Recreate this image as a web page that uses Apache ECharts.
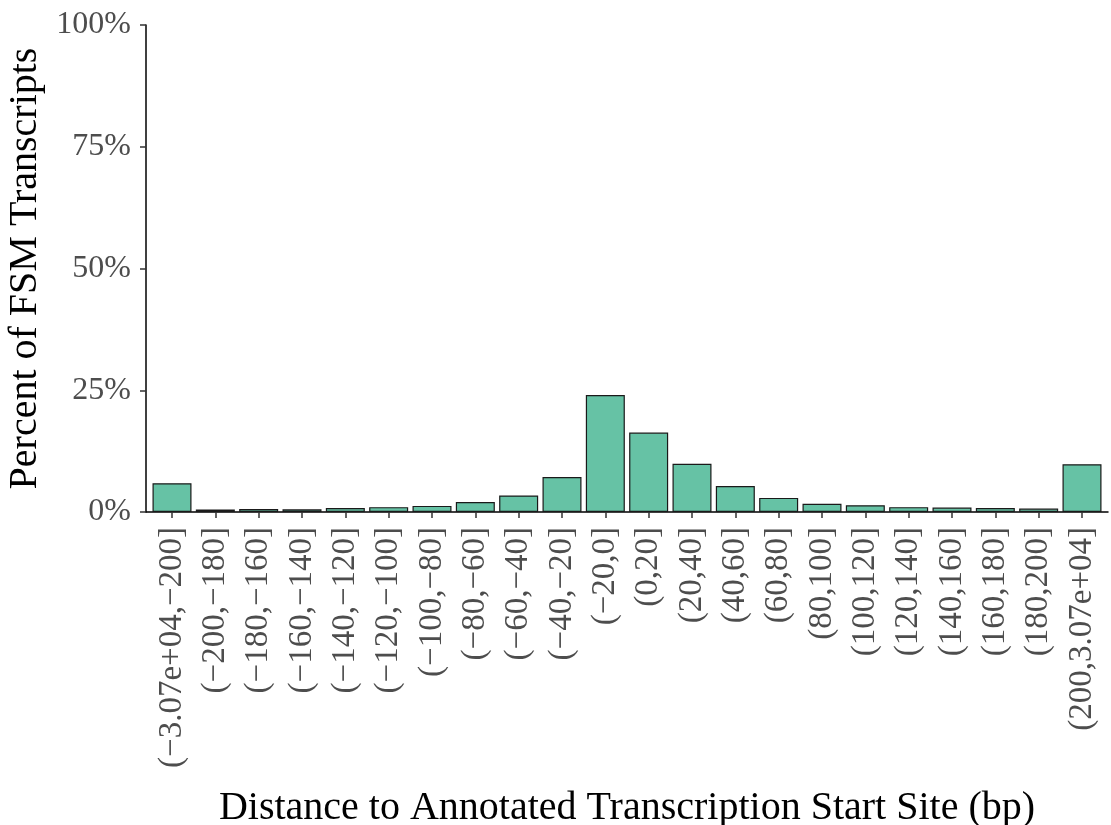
<!DOCTYPE html>
<html>
<head>
<meta charset="utf-8">
<script src="https://cdn.jsdelivr.net/npm/echarts@6/dist/echarts.min.js"></script>
<style>
  html, body { margin: 0; padding: 0; background: #fff; }
  #chart { width: 1111px; height: 825px; }
</style>
</head>
<body>
<div id="chart"></div>
<script>
// TSS distance bins (bp)
const categories = [
  '(−3.07e+04,−200]', '(−200,−180]', '(−180,−160]', '(−160,−140]', '(−140,−120]',
  '(−120,−100]', '(−100,−80]', '(−80,−60]', '(−60,−40]', '(−40,−20]', '(−20,0]',
  '(0,20]', '(20,40]', '(40,60]', '(60,80]', '(80,100]', '(100,120]', '(120,140]',
  '(140,160]', '(160,180]', '(180,200]', '(200,3.07e+04]'
];
// Percent of FSM transcripts in each bin
const percents = [
  5.9, 0.5, 0.6, 0.55, 0.8, 1.0, 1.25, 2.05, 3.4, 7.2, 24.0,
  16.3, 9.9, 5.35, 2.9, 1.7, 1.4, 1.0, 0.9, 0.8, 0.7, 9.8
];
const yTicks = [0, 25, 50, 75, 100];

const FONT = '"Liberation Serif", "DejaVu Serif", serif';
const chart = echarts.init(document.getElementById('chart'), null, { renderer: 'canvas' });

// Bars sit in an inner grid so the outer axis frame extends a little past the first/last bin
const TOP = 25, BOTTOM = 313;
const AX_LEFT = 146, AX_RIGHT = 3;
const axWidth = 1111 - AX_LEFT - AX_RIGHT;
const step = axWidth / (categories.length + 0.2);
const pad = 0.1 * step;

chart.setOption({
  animation: false,
  backgroundColor: '#ffffff',
  grid: [
    { left: AX_LEFT + pad, right: AX_RIGHT + pad, top: TOP, bottom: BOTTOM, outerBoundsMode: 'none', containLabel: false },
    { left: AX_LEFT, right: AX_RIGHT, top: TOP, bottom: BOTTOM, outerBoundsMode: 'none', containLabel: false }
  ],
  xAxis: [
    {
      type: 'category', gridIndex: 0, data: categories,
      axisLine: { show: false },
      axisTick: { show: true, alignWithLabel: true, length: 6, lineStyle: { color: '#333333', width: 1.5 } },
      axisLabel: {
        rotate: 90, interval: 0, margin: 15, color: '#4d4d4d',
        fontFamily: FONT, fontSize: 33
      },
      splitLine: { show: false }
    },
    {
      type: 'value', gridIndex: 1, min: 0, max: 1,
      axisLine: { show: true, onZero: false, lineStyle: { color: '#000000', width: 1.5 } },
      axisTick: { show: false }, axisLabel: { show: false }, splitLine: { show: false },
      name: 'Distance to Annotated Transcription Start Site (bp)',
      nameLocation: 'middle', nameGap: 276,
      nameTextStyle: { fontFamily: FONT, fontSize: 40, color: '#000000' }
    }
  ],
  yAxis: [
    { type: 'value', gridIndex: 0, min: 0, max: 100, show: false },
    {
      type: 'value', gridIndex: 1, min: 0, max: 100, interval: 25,
      axisLine: { show: true, lineStyle: { color: '#000000', width: 1.5 } },
      axisTick: { show: true, length: 6, lineStyle: { color: '#333333', width: 1.5 } },
      axisLabel: {
        margin: 15, color: '#4d4d4d', fontFamily: FONT, fontSize: 32,
        formatter: function (v) { return yTicks.indexOf(v) >= 0 ? v + '%' : ''; }
      },
      splitLine: { show: false },
      name: 'Percent of FSM Transcripts',
      nameLocation: 'middle', nameGap: 101,
      nameTextStyle: { fontFamily: FONT, fontSize: 40, color: '#000000' }
    }
  ],
  series: [{
    type: 'bar', xAxisIndex: 0, yAxisIndex: 0,
    data: percents, barWidth: '90%',
    itemStyle: { color: '#66c2a5', borderColor: '#1a1a1a', borderWidth: 1.2 }
  }]
});
</script>
</body>
</html>
